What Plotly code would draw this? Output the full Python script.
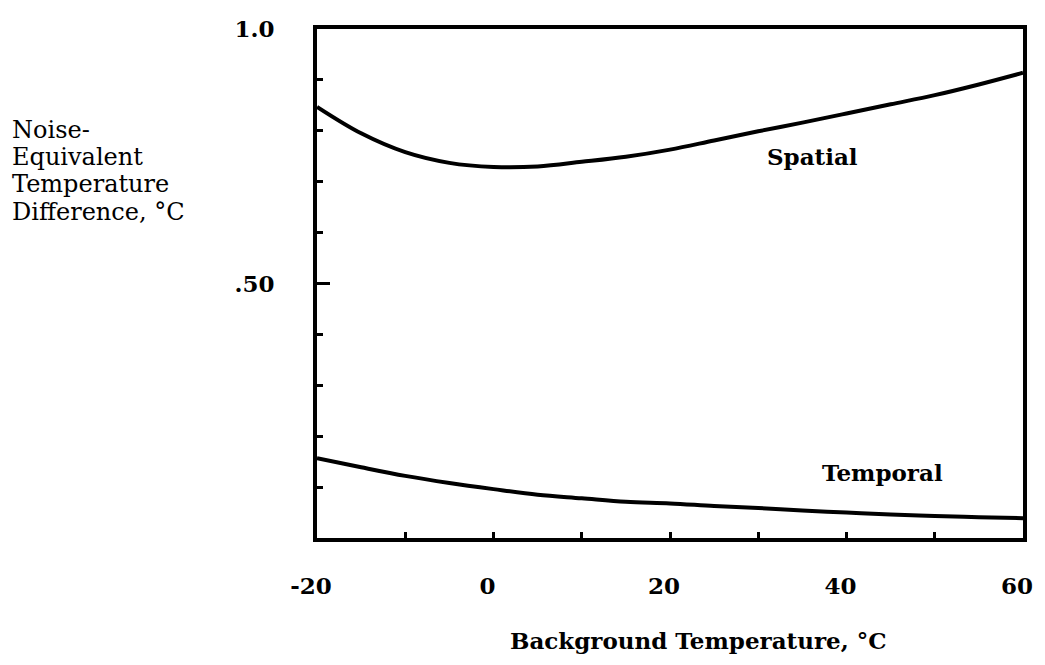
import plotly.graph_objects as go

# Data
temps = [-20, -15, -10, -5, 0, 5, 10, 15, 20, 25, 30, 35, 40, 45, 50, 55, 60]
spatial = [0.847, 0.795, 0.758, 0.737, 0.729, 0.730, 0.739, 0.749, 0.763, 0.781,
           0.799, 0.816, 0.834, 0.852, 0.870, 0.891, 0.914]
temporal = [0.157, 0.139, 0.122, 0.108, 0.096, 0.085, 0.078, 0.071, 0.068, 0.063,
            0.059, 0.054, 0.050, 0.046, 0.043, 0.041, 0.039]

x_tickvals = [-20, 0, 20, 40, 60]
x_ticktext = ["-20", "0", "20", "40", "60"]
y_tickvals = [0.5, 1.0]
y_ticktext = [".50", "1.0"]
ytitle_lines = ["Noise-", "Equivalent", "Temperature", "Difference, °C"]

BOLD = dict(family="DejaVu Serif", size=23, color="black", weight="bold")
TICKF = dict(family="DejaVu Serif", size=23, color="black", weight="bold")
REG = dict(family="DejaVu Serif", size=24, color="black")

fig = go.Figure()
fig.add_trace(go.Scatter(x=temps, y=spatial, mode="lines",
                         line=dict(color="black", width=4, shape="spline"),
                         showlegend=False))
fig.add_trace(go.Scatter(x=temps, y=temporal, mode="lines",
                         line=dict(color="black", width=4, shape="spline"),
                         showlegend=False))

fig.update_xaxes(range=[-20, 60], showgrid=False, zeroline=False,
                 showline=True, linecolor="black", linewidth=4, mirror=True,
                 tickvals=x_tickvals, ticktext=x_ticktext,
                 ticks="inside", ticklen=6, tickwidth=3, tickcolor="black",
                 minor=dict(dtick=10, tick0=0, ticks="inside", ticklen=6,
                            tickwidth=3, tickcolor="black"),
                 tickfont=TICKF, ticklabelstandoff=24, ticklabelshift=-6)
fig.update_yaxes(range=[0, 1.0], showgrid=False, zeroline=False,
                 showline=True, linecolor="black", linewidth=4, mirror=True,
                 tickvals=y_tickvals, ticktext=y_ticktext,
                 ticks="inside", ticklen=13, tickwidth=3, tickcolor="black",
                 minor=dict(dtick=0.1, tick0=0, ticks="inside", ticklen=6,
                            tickwidth=3, tickcolor="black"),
                 tickfont=TICKF, ticklabelstandoff=34)

annotations = [
    dict(x=36.2, y=0.749, xref="x", yref="y", text="Spatial", showarrow=False,
         font=BOLD, xanchor="center", yanchor="middle"),
    dict(x=44.1, y=0.128, xref="x", yref="y", text="Temporal", showarrow=False,
         font=BOLD, xanchor="center", yanchor="middle"),
    dict(x=0.540, y=-0.2004, xref="paper", yref="paper",
         text="Background Temperature, °C", showarrow=False,
         font=BOLD, xanchor="center", yanchor="middle"),
]
ys = [0.8016, 0.7485, 0.6955, 0.6405]
for line, yy in zip(ytitle_lines, ys):
    annotations.append(dict(x=-0.4346, y=yy, xref="paper", yref="paper",
                            text=line, showarrow=False, font=REG,
                            xanchor="left", yanchor="middle"))

fig.update_layout(width=1045, height=665,
                  margin=dict(l=317, r=17, t=29, b=127),
                  paper_bgcolor="white", plot_bgcolor="white",
                  annotations=annotations)

fig.write_html("out.html")
